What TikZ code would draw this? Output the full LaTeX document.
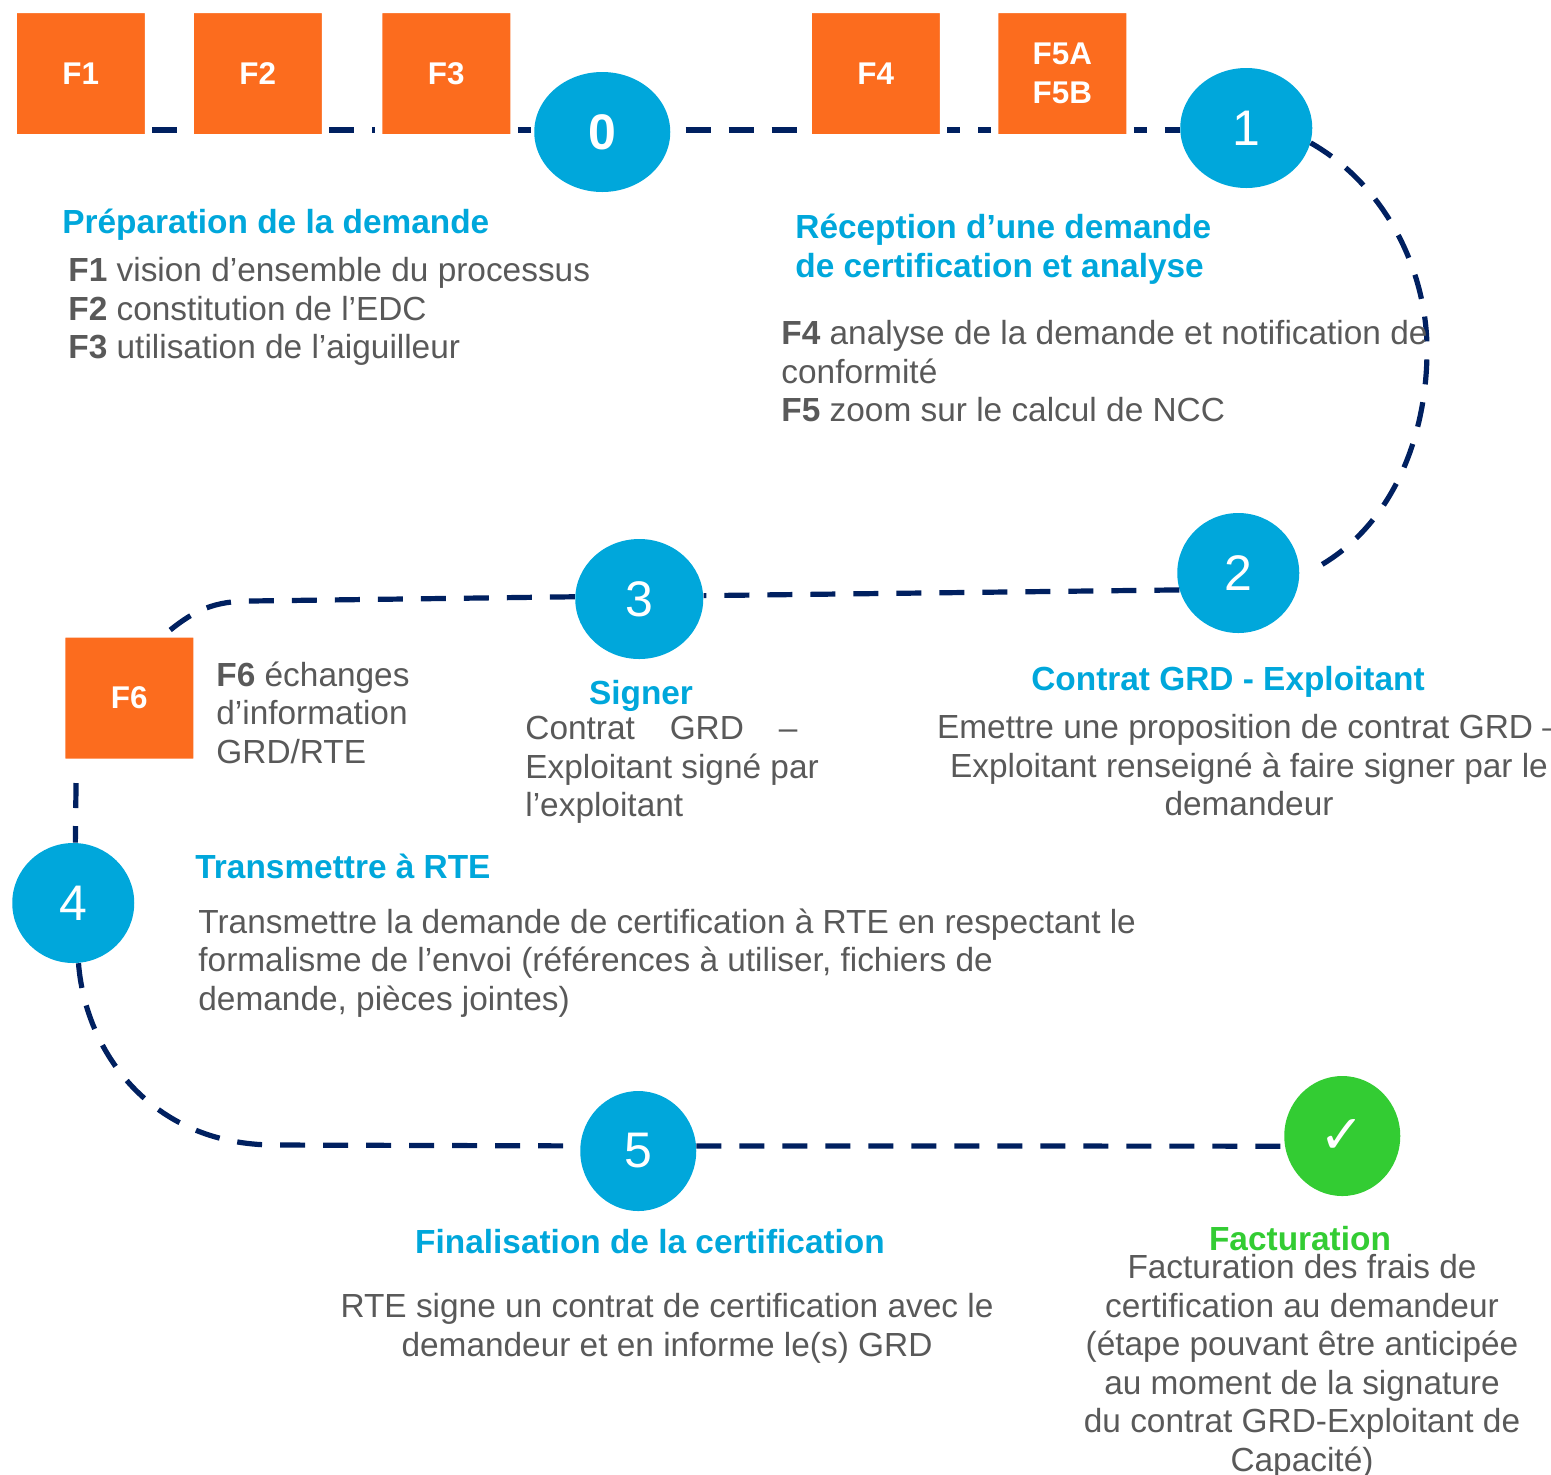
\documentclass[tikz,border=0pt]{standalone}
\usepackage{fontspec}
\setmainfont{Liberation Sans}
\newfontfamily\symfont{DejaVu Sans}
\usepackage{tikz}
\usetikzlibrary{positioning}
\usetikzlibrary{shapes.geometric,shadows}

\definecolor{bleu}{HTML}{00A7DB}
\definecolor{nuit}{HTML}{002060}
\definecolor{orangef}{HTML}{FC6C1E}
\definecolor{vert}{HTML}{33CC33}
\definecolor{gris}{HTML}{595959}

\begin{document}
\begin{tikzpicture}[x = 0.5pt, y = -0.5pt, on grid,
                    fiche/.style = {rectangle,
                                    fill = orangef,
                                    draw = white,
                                    line width = 3.75pt,
                                    rounded corners = 1.2pt,
                                    minimum width = 67.75pt,
                                    minimum height = 64.25pt,
                                    text = white,
                                    inner sep = 0pt,
                                    font = \fontsize{15.7}{19.6}\selectfont\bfseries,
                                    align = center,
                                    drop shadow = {shadow xshift = 0pt,
                                                   shadow yshift = -1.6pt,
                                                   opacity = 0.35,
                                                   fill = black}},
                    etape/.style = {ellipse,
                                    fill = bleu,
                                    text = white,
                                    inner sep = 0pt,
                                    minimum height = 60pt,
                                    font = \fontsize{25}{30}\selectfont},
                    lien/.style  = {draw = nuit,
                                    line width = 2.6pt,
                                    dash pattern = on 12.5pt off 9pt},
                    titre/.style = {inner sep = 0pt,
                                    text = bleu,
                                    align = left,
                                    font = \fontsize{16.7}{19.25}\selectfont\bfseries},
                    corps/.style = {inner sep = 0pt,
                                    text = gris,
                                    align = left,
                                    font = \fontsize{16.7}{19.25}\selectfont}]

\useasboundingbox (0,0) rectangle (1551,1474);
\coordinate (rail) at (0,130);

\node[fiche] (F1) at (80.75,73.5) {F1};
\node[fiche] (F2) [right = 88.5pt of F1] {F2};
\node[fiche] (F3) [right = 94.25pt of F2] {F3};
\node[fiche] (F4) [right = 214.75pt of F3] {F4};
\node[fiche] (F5) [right = 93.25pt of F4] {F5A\\F5B};

\node[etape, minimum width = 68pt, font = \fontsize{25}{30}\selectfont\bfseries] (s0) [below right = 29.25pt and 78pt of F3] {0};
\node[etape, minimum width = 66pt] (s1) [below right = 27.25pt and 92pt of F5] {1};
\node[etape, minimum width = 61pt] (s2) [below left = 222.5pt and 4pt of s1] {2};
\node[etape, minimum width = 64pt] (s3) [below left = 13pt and 299.5pt of s2] {3};
\node[fiche] (F6) [below left = 49.5pt and 255pt of s3] {F6};
\node[etape, minimum width = 61pt] (s4) [below left = 102.5pt and 28pt of F6] {4};
\node[etape, minimum width = 58pt] (s5) [below right = 124pt and 282.5pt of s4] {5};
\node[etape, minimum width = 58pt, fill = vert, font = \fontsize{27}{30}\selectfont\symfont\bfseries] (fin) [above right = 7.5pt and 352pt of s5] {✓};

\path[lien] (F1.east |- rail) -- (F2.west |- rail);
\path[lien] (F2.east |- rail) -- (F3.west |- rail);
\path[lien, dash phase = 6pt] (F3.east |- rail) -- (s0.west |- rail);
\path[lien, dash phase = 14pt] (s0.east |- rail) -- (F4.west |- rail);
\path[lien, dash phase = 6pt] (F4.east |- rail) -- (F5.west |- rail);
\path[lien, dash phase = 6pt] (F5.east |- rail) -- (s1.west |- rail);
\path[lien] (s1.-13) .. controls (1385,185) and (1427,270) .. (1427,350)
            .. controls (1427,440) and (1390,530) .. (1312,570);
\path[lien] (s2.196) -- (s3.3);
\path[lien] (s3.178) -- (250,601) .. controls (215,601) and (195,610) .. ([xshift = 20.5pt]F6.north);
\path[lien, dash phase = 13pt] ([xshift = -26.5pt]F6.south) -- (s4.88);
\path[lien] (s4.-85) .. controls (85,1050) and (150,1145) .. (275,1145) -- (s5.175);
\path[lien] (s5.5) -- (fin.190);

\node[titre, anchor = north west] (t0) at (62,209) {Préparation de la demande};
\node[corps, anchor = north west] (d0) at (68,257) {\textbf{F1} vision d’ensemble du processus\\\textbf{F2} constitution de l’EDC\\\textbf{F3} utilisation de l’aiguilleur};

\node[titre, anchor = north west] (t1) at (795,214) {Réception d’une demande\\de certification et analyse};
\node[corps, anchor = north west] (d1) at (781,320) {\textbf{F4} analyse de la demande et notification de\\conformité\\\textbf{F5} zoom sur le calcul de NCC};

\node[titre, anchor = north] (t2) at (1228,666) {Contrat GRD - Exploitant};
\node[corps, anchor = north, align = center] (d2) at (1249,714) {Emettre une proposition de contrat GRD –\\Exploitant renseigné à faire signer par le\\demandeur};

\node[titre, anchor = north] (t3) at (641,680) {Signer};
\node[corps, anchor = north west] (d3) at (525,716) {\hbox to 142pt{Contrat\hfill GRD\hfill –\hspace{6pt}}\\Exploitant signé par\\l’exploitant};

\node[corps, anchor = north west] (d6) at (216,661) {\textbf{F6} échanges\\d’information\\GRD/RTE};

\node[titre, anchor = north west] (t4) at (195,854) {Transmettre à RTE};
\node[corps, anchor = north west] (d4) at (198,908) {Transmettre la demande de certification à RTE en respectant le\\formalisme de l’envoi (références à utiliser, fichiers de\\demande, pièces jointes)};

\node[titre, anchor = north] (t5) at (650,1229) {Finalisation de la certification};
\node[corps, anchor = north, align = center] (d5) at (667,1293) {RTE signe un contrat de certification avec le\\demandeur et en informe le(s) GRD};

\node[titre, anchor = north, text = vert] (tf) at (1300,1226) {Facturation};
\node[corps, anchor = north, align = center] (df) at (1302,1254) {Facturation des frais de\\certification au demandeur\\(étape pouvant être anticipée\\au moment de la signature\\du contrat GRD-Exploitant de\\Capacité)};

\end{tikzpicture}
\end{document}
